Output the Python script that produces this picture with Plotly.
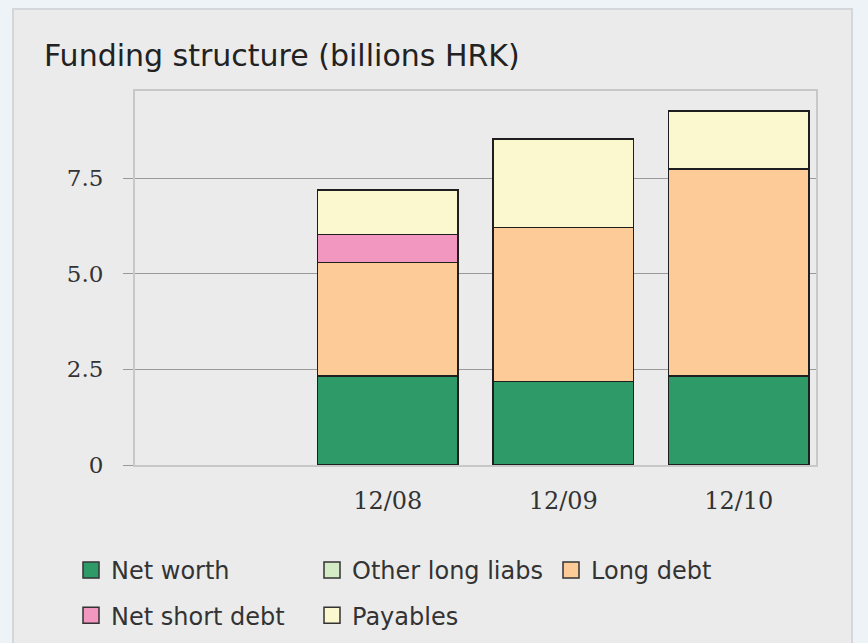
import plotly.graph_objects as go

# Periods (the first slot has no data)
periods = ["", "12/08", "12/09", "12/10"]

# Funding components, billions HRK (stacked bottom to top)
net_worth = [None, 2.33, 2.18, 2.31]
other_long_liabs = [None, 0.0, 0.0, 0.03]
long_debt = [None, 2.96, 4.03, 5.40]
net_short_debt = [None, 0.74, 0.0, 0.0]
payables = [None, 1.16, 2.32, 1.52]

y_tickvals = [0, 2.5, 5.0, 7.5]
y_ticktext = ["0", "2.5", "5.0", "7.5"]

series = [
    ("Net worth", net_worth, "#2e9a68", "legend"),
    ("Other long liabs", other_long_liabs, "#d4ecc6", "legend2"),
    ("Long debt", long_debt, "#fccb97", "legend3"),
    ("Net short debt", net_short_debt, "#f197c0", "legend"),
    ("Payables", payables, "#fbf8cf", "legend2"),
]

x_pos = list(range(len(periods)))
W, H = 868, 643
L, R, T, B = 135, 52, 91, 178
pw, ph = W - L - R, H - T - B

fig = go.Figure()
for name, vals, color, leg in series:
    fig.add_trace(go.Bar(
        x=x_pos, y=vals, name=name, width=0.8,
        marker=dict(color=color, line=dict(color="#1e1e1e", width=1.5)),
        legendgroup=name, showlegend=False,
    ))
# legend entries (larger square swatches)
for name, vals, color, leg in series:
    fig.add_trace(go.Scatter(
        x=[None], y=[None], mode="markers", name=name, legendgroup=name,
        legend=leg,
        marker=dict(symbol="square", size=16, color=color,
                    line=dict(color="#333333", width=1.5)),
    ))

def px_x(p):
    return (p - L) / pw

def px_y(p):
    return (H - B - p) / ph

legend_font = dict(family="DejaVu Sans", size=24, color="#333333")
leg_common = dict(orientation="v", xanchor="left", yanchor="top",
                  bgcolor="rgba(0,0,0,0)", font=legend_font,
                  tracegroupgap=11, itemwidth=30)
leg_top = px_y(548)

fig.update_layout(
    width=W, height=H,
    margin=dict(l=L, r=R, t=T, b=B, autoexpand=False),
    paper_bgcolor="#eef3f8",
    plot_bgcolor="#ffffff",
    barmode="stack",
    title=dict(text="Funding structure (billions HRK)",
               font=dict(family="DejaVu Sans", size=30, color="#222222"),
               xref="container", x=44 / W, xanchor="left",
               yref="container", y=1 - 55 / H, yanchor="middle"),
    xaxis=dict(range=[-0.44, 3.44], tickmode="array",
               tickvals=x_pos[1:], ticktext=periods[1:],
               ticks="", showgrid=False, zeroline=False,
               showline=True, linecolor="#c8c8c8", linewidth=2, mirror=True,
               tickfont=dict(family="DejaVu Serif", size=24, color="#333333"),
               ticklabelstandoff=13, fixedrange=True),
    yaxis=dict(range=[0, 9.78], tickmode="array",
               tickvals=y_tickvals, ticktext=y_ticktext,
               ticks="outside", ticklen=10, tickcolor="#999999", tickwidth=1,
               showgrid=True, gridcolor="#999999", gridwidth=1, zeroline=False,
               showline=True, linecolor="#c8c8c8", linewidth=2, mirror=True,
               tickfont=dict(family="DejaVu Serif", size=23, color="#333333"),
               ticklabelstandoff=15, fixedrange=True),
    legend=dict(x=px_x(71), y=leg_top, **leg_common),
    legend2=dict(x=px_x(312), y=leg_top, **leg_common),
    legend3=dict(x=px_x(551), y=leg_top, **leg_common),
    shapes=[dict(type="rect", xref="paper", yref="paper", layer="below",
                 x0=px_x(13), x1=px_x(852), y0=px_y(660), y1=px_y(9),
                 fillcolor="#ebebeb", line=dict(color="#d3d7db", width=2))],
)

fig.write_html("out.html")
